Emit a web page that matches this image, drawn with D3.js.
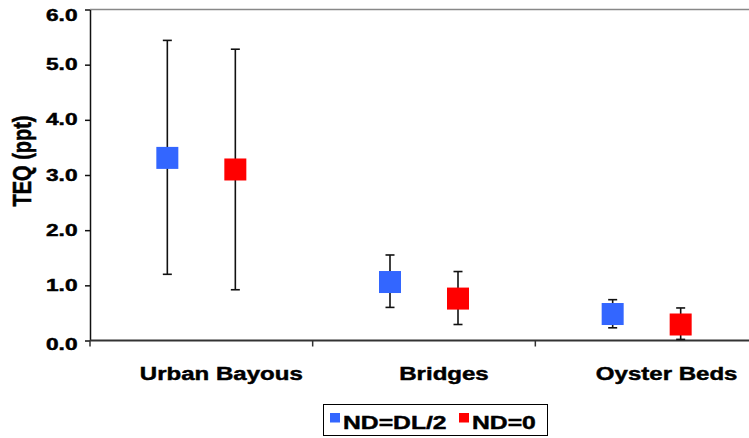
<!DOCTYPE html>
<html>
<head>
<meta charset="utf-8">
<script src="https://cdnjs.cloudflare.com/ajax/libs/d3/7.8.5/d3.min.js"></script>
<style>
  body { margin: 0; background: #fff; }
  svg text { font-family: "Liberation Sans", Arial, sans-serif; font-weight: bold; fill: #000; stroke: #000; stroke-width: 0.45px; }
</style>
</head>
<body>
<div id="chart"></div>
<script>
// chart values
const categories = ["Urban Bayous", "Bridges", "Oyster Beds"];
const seriesNames = ["ND=DL/2", "ND=0"];
const seriesColors = ["#3366ff", "#ff0000"];
const meanDL2 = [3.31, 1.06, 0.48];
const lowDL2 = [1.20, 0.60, 0.23];
const highDL2 = [5.44, 1.55, 0.74];
const meanND0 = [3.10, 0.76, 0.29];
const lowND0 = [0.92, 0.29, 0.02];
const highND0 = [5.28, 1.25, 0.59];
const yTicks = [0, 1, 2, 3, 4, 5, 6];
const yTitle = "TEQ (ppt)";

const width = 749;
const height = 438;
const stretch = 1.3; // text in the picture is drawn wider than normal

// build points from the arrays
const points = [];
categories.forEach((c, i) => {
    points.push({ cat: c, series: seriesNames[0], mean: meanDL2[i], low: lowDL2[i], high: highDL2[i] });
    points.push({ cat: c, series: seriesNames[1], mean: meanND0[i], low: lowND0[i], high: highND0[i] });
});

const svg = d3.select("#chart")
    .append("svg")
    .attr("width", width)
    .attr("height", height);

svg.append("rect").attr("width", width).attr("height", height).attr("fill", "#fff");

const xScale = d3.scaleBand()
    .domain(categories)
    .range([90, 758]);

const xInner = d3.scalePoint()
    .domain(seriesNames)
    .range([-34, 34]);

const yScale = d3.scaleLinear()
    .domain([0, 6])
    .range([340.5, 9.5]);

const color = d3.scaleOrdinal().domain(seriesNames).range(seriesColors);

// top border of plot area
svg.append("line")
    .attr("x1", 90).attr("x2", width)
    .attr("y1", yScale(6)).attr("y2", yScale(6))
    .attr("stroke", "#888").attr("stroke-width", 1.5);

// y axis
const yAxis = d3.axisLeft(yScale)
    .tickValues(yTicks)
    .tickFormat(d3.format(".1f"))
    .tickSize(5)
    .tickSizeOuter(0);

const yg = svg.append("g")
    .attr("transform", "translate(90,0)")
    .call(yAxis);
yg.select(".domain").attr("stroke", "#111").attr("stroke-width", 1.5);
yg.selectAll(".tick line").attr("stroke", "#111").attr("stroke-width", 1.5);
yg.selectAll(".tick text")
    .attr("x", -8.8)
    .attr("transform", "scale(1.42,1)")
    .style("font-size", "16px");
// end labels sit a little below their ticks, as in the original
yg.selectAll(".tick text")
    .filter(d => d === d3.max(yTicks))
    .attr("dy", "0.66em");
yg.selectAll(".tick text")
    .filter(d => d === d3.min(yTicks))
    .attr("dy", "0.58em");

// x axis
const xAxis = d3.axisBottom(xScale).tickSize(0).tickFormat("");
const xg = svg.append("g")
    .attr("transform", "translate(0," + yScale(0) + ")")
    .call(xAxis);
xg.select(".domain").remove();
xg.append("line")
    .attr("x1", 90).attr("x2", width)
    .attr("stroke", "#333").attr("stroke-width", 2);

// category separators
xg.selectAll(".sep")
    .data(categories)
    .enter()
    .append("line")
    .attr("class", "sep")
    .attr("x1", d => xScale(d)).attr("x2", d => xScale(d))
    .attr("y1", 0).attr("y2", 6)
    .attr("stroke", "#333").attr("stroke-width", 1.5);

// category labels
svg.selectAll(".cat-label")
    .data(categories)
    .enter()
    .append("text")
    .attr("class", "cat-label")
    .attr("transform", d => "translate(" + (xScale(d) + xScale.bandwidth() / 2 + 20) + ",380) scale(" + stretch + ",1)")
    .attr("text-anchor", "middle")
    .style("font-size", "18.5px")
    .text(d => d);

// y title
svg.append("text")
    .attr("transform", "translate(31,161) scale(" + stretch + ",1) rotate(-90)")
    .attr("text-anchor", "middle")
    .style("font-size", "20px")
    .text(yTitle);

// error bars
const cx = d => xScale(d.cat) + xScale.bandwidth() / 2 + xInner(d.series);
const bars = svg.selectAll(".err")
    .data(points)
    .enter()
    .append("g")
    .attr("class", "err")
    .attr("stroke", "#111")
    .attr("stroke-width", 1.6);

bars.append("line")
    .attr("x1", cx).attr("x2", cx)
    .attr("y1", d => yScale(d.low)).attr("y2", d => yScale(d.high));
bars.append("line")
    .attr("x1", d => cx(d) - 4.5).attr("x2", d => cx(d) + 4.5)
    .attr("y1", d => yScale(d.high)).attr("y2", d => yScale(d.high));
bars.append("line")
    .attr("x1", d => cx(d) - 4.5).attr("x2", d => cx(d) + 4.5)
    .attr("y1", d => yScale(d.low)).attr("y2", d => yScale(d.low));

// markers
const size = 22;
svg.selectAll(".marker")
    .data(points)
    .enter()
    .append("rect")
    .attr("class", "marker")
    .attr("x", d => cx(d) - size / 2)
    .attr("y", d => yScale(d.mean) - size / 2)
    .attr("width", size)
    .attr("height", size)
    .attr("fill", d => color(d.series));

// legend
const legend = svg.append("g");
legend.append("rect")
    .attr("x", 323.5).attr("y", 404.5)
    .attr("width", 224).attr("height", 31)
    .attr("fill", "#fff").attr("stroke", "#000").attr("stroke-width", 1);

const legendX = [330, 459];
const legendItems = legend.selectAll(".leg")
    .data(seriesNames)
    .enter()
    .append("g")
    .attr("class", "leg")
    .attr("transform", (d, i) => "translate(" + legendX[i] + ",0)");

legendItems.append("rect")
    .attr("x", 0).attr("y", 413)
    .attr("width", 10).attr("height", 9.5)
    .attr("fill", d => color(d));

legendItems.append("text")
    .attr("transform", "translate(13,429) scale(" + stretch + ",1)")
    .style("font-size", "19px")
    .text(d => d);
</script>
</body>
</html>
